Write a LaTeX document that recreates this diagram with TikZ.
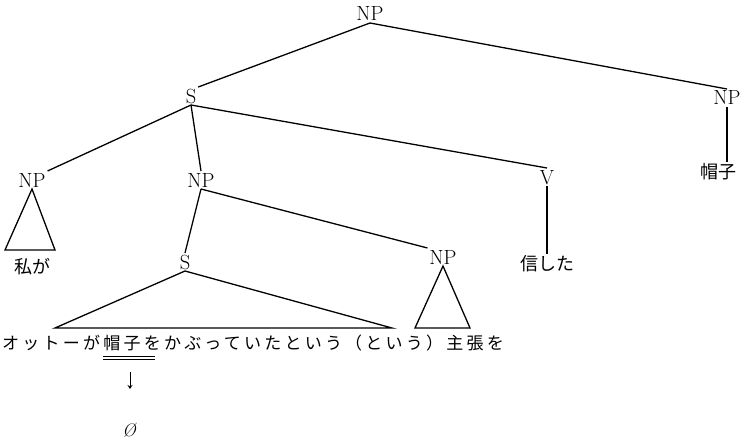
\documentclass[tikz,border=0pt]{standalone}
\usepackage{fontspec}
\newfontfamily\jp{Noto Sans CJK JP}
\newfontfamily\jpw[LetterSpace=19]{Noto Sans CJK JP}
\usetikzlibrary{arrows.meta}
\tikzset{
  cat/.style={font=\fontsize{20.5}{20.5}\selectfont, inner sep=2pt, outer sep=0pt, text height=14pt, text depth=0pt},
  jplabel/.style={font=\jp\fontsize{18}{18}\selectfont, inner sep=2pt, outer sep=0pt},
  edge/.style={line width=1.3pt},
}
\begin{document}
\begin{tikzpicture}[x=1pt,y=-1pt]
\useasboundingbox (0,0) rectangle (746,441);
% category nodes
\node[cat] (np0) at (370,14) {NP};
\node[cat] (s1) at (191,96) {S};
\node[cat] (npR) at (727,98) {NP};
\node[cat] (npL) at (32,180) {NP};
\node[cat] (npM) at (201,180) {NP};
\node[cat] (v) at (547,177) {V};
\node[cat] (s2) at (185,262) {S};
\node[cat] (npS) at (443,257) {NP};
% word labels
\node[jplabel] (boushi) at (718,172) {帽子};
\node[jplabel] (watashi) at (32,267) {私が};
\node[jplabel] (shinjita) at (547,264) {信した};
\node[font=\jpw\fontsize{17}{17}\selectfont, inner sep=0pt, anchor=west] (sent) at (2,343) {オットーが帽子をかぶっていたという（という）主張を};
\node[font=\fontsize{18}{18}\selectfont\itshape, inner sep=1pt] (empty) at (129,430) {\O};
% triangle base corners
\coordinate (tl1) at (5,250);
\coordinate (tl2) at (55,250);
\coordinate (ts1) at (55,328);
\coordinate (ts2) at (392,328);
\coordinate (tn1) at (415,328);
\coordinate (tn2) at (470,328);
\coordinate (arrtop) at (130,372);
% branches
\draw[edge] (np0.south) -- (s1.north east);
\draw[edge] (np0.south) -- (npR.north);
\draw[edge] (s1.south) -- (npL.north east);
\draw[edge] (s1.south) -- (npM.north);
\draw[edge] (s1.south) -- (v.north);
\draw[edge] (npR.south) -- (npR.south |- boushi.north);
\draw[edge] (npM.south) -- (s2.north);
\draw[edge] (npM.south) -- (npS.north west);
\draw[edge] (v.south) -- (v.south |- shinjita.north);
% triangles
\draw[edge, line join=miter] (npL.south) -- (tl1) -- (tl2) -- cycle;
\draw[edge, line join=miter] (s2.south) -- (ts1) -- (ts2) -- cycle;
\draw[edge, line join=miter] (npS.south) -- (tn1) -- (tn2) -- cycle;
% double underline under 帽子
\draw[line width=1pt] (103,356) -- (155,356);
\draw[line width=1pt] (103,359.5) -- (155,359.5);
% arrow
\draw[line width=1pt, -{Stealth[length=4pt,width=5pt]}] (arrtop) -- (130,389);
\end{tikzpicture}
\end{document}
